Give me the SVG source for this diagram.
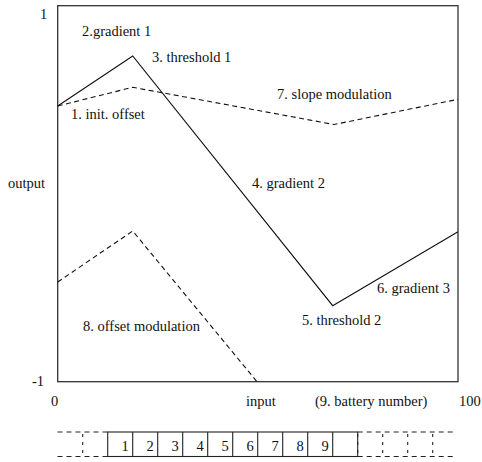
<svg xmlns="http://www.w3.org/2000/svg" width="482" height="462" viewBox="0 0 482 462">
<style>
text{font-family:"Liberation Serif","Times New Roman",serif;font-size:14.5px;fill:#111}
.num{text-anchor:middle}
.box{fill:none;stroke:#333;stroke-width:1.3}
.solid{fill:none;stroke:#111;stroke-width:1.1}
.dash{fill:none;stroke:#111;stroke-width:1.1;stroke-dasharray:5,3.5}
.cell{fill:none;stroke:#222;stroke-width:1.1}
.hdash{fill:none;stroke:#222;stroke-width:1.1;stroke-dasharray:5,4}
.vdash{fill:none;stroke:#222;stroke-width:1.1;stroke-dasharray:3,5;stroke-dashoffset:-2}
</style>
<rect width="482" height="462" fill="#fff"/>
<g id="chart">
<rect class="box" x="57.7" y="5.7" width="400.3" height="376"/>
</g>
<g id="curves">
<polyline class="solid" points="57.7,106 132.7,56 332.7,305.7 458,231.7"/>
<polyline class="dash" points="57.7,106 132.7,87.3 334,124.5 458,99.3"/>
<polyline class="dash" points="57.7,282 132.7,231 257,381.7"/>
</g>
<g id="labels">
<text x="40" y="19">1</text>
<text x="82" y="36">2.gradient 1</text>
<text x="152" y="62">3. threshold 1</text>
<text x="71" y="119">1. init. offset</text>
<text x="277" y="99">7. slope modulation</text>
<text x="8" y="188">output</text>
<text x="252" y="188">4. gradient 2</text>
<text x="377" y="293">6. gradient 3</text>
<text x="302" y="325">5. threshold 2</text>
<text x="83" y="331">8. offset modulation</text>
<text x="32" y="386">-1</text>
<text x="51" y="406">0</text>
<text x="246" y="406">input</text>
<text x="315" y="406">(9. battery number)</text>
<text x="459" y="406">100</text>
</g>
<g id="batteries">
<rect class="cell" x="107.7" y="432" width="250" height="24.5"/>
<path class="cell" d="M132.7,432V456.5M157.7,432V456.5M182.7,432V456.5M207.7,432V456.5M232.7,432V456.5M257.7,432V456.5M282.7,432V456.5M307.7,432V456.5M332.7,432V456.5"/>
<path class="hdash" d="M57.5,432H107.7M57.5,456.5H107.7M357.7,432H456M357.7,456.5H456"/>
<path class="vdash" d="M82.7,432V456.5M357.7,432V456.5M382.7,432V456.5M407.7,432V456.5M432.7,432V456.5"/>
<text class="num" x="125" y="451">1</text>
<text class="num" x="150" y="451">2</text>
<text class="num" x="175" y="451">3</text>
<text class="num" x="200" y="451">4</text>
<text class="num" x="225" y="451">5</text>
<text class="num" x="250" y="451">6</text>
<text class="num" x="275" y="451">7</text>
<text class="num" x="300" y="451">8</text>
<text class="num" x="325" y="451">9</text>
</g>
</svg>
